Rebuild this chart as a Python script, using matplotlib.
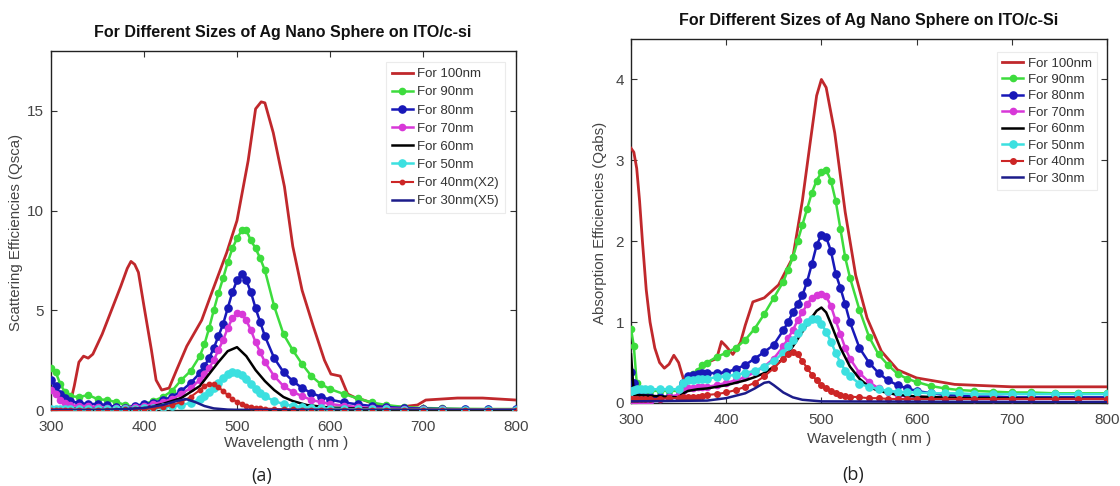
import matplotlib
matplotlib.use("Agg")
import matplotlib.pyplot as plt

plt.rcParams['font.family'] = ['Liberation Sans', 'DejaVu Sans']

# ---------------- data: panel (a) scattering ----------------
wl_a = [300, 305, 310, 315, 320, 330, 340, 350, 360, 370, 380, 390, 400, 410, 420, 430, 440, 450, 460,
        465, 470, 475, 480, 485, 490, 495, 500, 505, 510, 515, 520, 525, 530,
        540, 550, 560, 570, 580, 590, 600, 615, 630, 645, 660, 680, 700, 720, 745, 770, 800]

a100_wl = [300, 310, 320, 325, 330, 335, 340, 345, 355, 365, 375, 382, 386, 390, 394, 400, 408, 413, 419,
           427, 435, 446, 462, 473, 489, 500, 512, 520, 526, 530, 539, 551, 560, 570, 582, 594, 601,
           611, 619, 628, 636, 651, 675, 694, 703, 737, 764, 800]
a100 = [0.1, 0.1, 0.2, 1.2, 2.4, 2.7, 2.6, 2.8, 3.8, 5.0, 6.2, 7.1, 7.45, 7.3, 6.9, 5.2, 3.0, 1.5, 1.0,
        1.1, 2.0, 3.2, 4.5, 5.9, 7.9, 9.5, 12.5, 15.1, 15.45, 15.4, 13.9, 11.2, 8.2, 6.0, 4.2, 2.5, 1.8,
        1.7, 0.8, 0.6, 0.5, 0.25, 0.15, 0.25, 0.5, 0.6, 0.6, 0.5]

a90 = [2.1, 1.9, 1.3, 0.9, 0.7, 0.65, 0.75, 0.55, 0.5, 0.4, 0.25, 0.15, 0.3, 0.45, 0.65, 0.95, 1.5, 1.95, 2.7,
       3.3, 4.1, 5.0, 5.85, 6.6, 7.4, 8.1, 8.6, 9.0, 9.0, 8.5, 8.1, 7.6, 7.0,
       5.2, 3.8, 3.0, 2.3, 1.7, 1.3, 1.05, 0.8, 0.58, 0.38, 0.25, 0.15, 0.1, 0.08, 0.06, 0.05, 0.05]

a80 = [1.5, 1.2, 0.8, 0.6, 0.45, 0.35, 0.3, 0.3, 0.25, 0.15, 0.1, 0.2, 0.3, 0.35, 0.5, 0.65, 0.95, 1.35, 1.85,
       2.2, 2.6, 3.1, 3.7, 4.3, 5.1, 5.9, 6.5, 6.8, 6.5, 5.9, 5.1, 4.4, 3.7,
       2.6, 1.9, 1.45, 1.1, 0.85, 0.67, 0.52, 0.38, 0.28, 0.2, 0.15, 0.1, 0.07, 0.05, 0.04, 0.03, 0.03]

a70 = [1.0, 0.8, 0.5, 0.35, 0.25, 0.2, 0.2, 0.15, 0.1, 0.08, 0.1, 0.15, 0.2, 0.3, 0.4, 0.55, 0.8, 1.1, 1.5,
       1.8, 2.1, 2.5, 3.0, 3.5, 4.1, 4.6, 4.85, 4.8, 4.5, 4.0, 3.4, 2.9, 2.4,
       1.7, 1.2, 0.9, 0.7, 0.5, 0.4, 0.3, 0.22, 0.15, 0.1, 0.08, 0.05, 0.04, 0.03, 0.02, 0.02, 0.02]

a60_wl = [300, 350, 400, 420, 440, 460, 470, 480, 490, 500, 510, 520, 530, 540, 550, 560, 575, 600, 650, 700, 800]
a60 = [0.1, 0.05, 0.1, 0.3, 0.6, 1.2, 1.8, 2.4, 2.95, 3.15, 2.7, 2.0, 1.45, 1.0, 0.65, 0.45, 0.25, 0.12, 0.05, 0.02, 0.01]

a50 = [0.05, 0.05, 0.05, 0.05, 0.05, 0.05, 0.05, 0.05, 0.05, 0.05, 0.06, 0.07, 0.08, 0.1, 0.13, 0.18, 0.25, 0.35, 0.55,
       0.7, 0.9, 1.1, 1.35, 1.6, 1.8, 1.9, 1.88, 1.75, 1.55, 1.3, 1.05, 0.85, 0.68,
       0.45, 0.3, 0.2, 0.15, 0.1, 0.08, 0.06, 0.05, 0.04, 0.03, 0.03, 0.02, 0.02, 0.02, 0.02, 0.02, 0.02]

a40 = [0.02, 0.02, 0.02, 0.02, 0.02, 0.02, 0.02, 0.02, 0.02, 0.02, 0.03, 0.04, 0.05, 0.08, 0.15, 0.25, 0.4, 0.65, 1.0,
       1.2, 1.32, 1.3, 1.15, 0.95, 0.75, 0.55, 0.4, 0.3, 0.22, 0.16, 0.12, 0.09, 0.07,
       0.05, 0.04, 0.03, 0.02, 0.02, 0.02, 0.02, 0.02, 0.02, 0.02, 0.02, 0.02, 0.02, 0.02, 0.02, 0.02, 0.02]

a30_wl = [300, 350, 380, 400, 420, 435, 445, 455, 465, 475, 490, 500, 600, 800]
a30 = [0.0, 0.0, 0.05, 0.1, 0.25, 0.45, 0.55, 0.4, 0.2, 0.08, 0.02, 0.01, 0.0, 0.0]

# ---------------- data: panel (b) absorption ----------------
wl_b = [300, 303, 306, 310, 315, 320, 330, 340, 350, 355, 360, 365, 370, 375, 380,
        390, 400, 410, 420, 430, 440, 450, 460,
        465, 470, 475, 480, 485, 490, 495, 500, 505, 510, 515, 520, 525, 530,
        540, 550, 560, 570, 580, 590, 600, 615, 630, 645, 660, 680, 700, 720, 745, 770, 800]

b100_wl = [300, 303, 306, 309, 312, 316, 320, 325, 330, 335, 340, 345, 350, 355, 360, 370, 380, 390, 395,
           400, 407, 415, 420, 428, 440, 455, 470, 480, 488, 495, 500, 505, 514, 525, 536, 548, 563,
           580, 600, 640, 700, 800]
b100 = [3.15, 3.1, 2.9, 2.5, 2.0, 1.4, 1.0, 0.68, 0.5, 0.43, 0.48, 0.59, 0.5, 0.3, 0.3, 0.4, 0.5, 0.55, 0.76,
        0.7, 0.6, 0.75, 0.96, 1.25, 1.3, 1.46, 1.8, 2.5, 3.2, 3.8, 4.0, 3.9, 3.34, 2.36, 1.58, 1.05, 0.64,
        0.41, 0.31, 0.23, 0.2, 0.2]

b90 = [0.92, 0.7, 0.25, 0.15, 0.15, 0.15, 0.15, 0.15, 0.15, 0.25, 0.3, 0.36, 0.4, 0.47, 0.5,
       0.57, 0.62, 0.68, 0.78, 0.92, 1.1, 1.3, 1.5,
       1.65, 1.8, 2.0, 2.2, 2.4, 2.6, 2.75, 2.85, 2.88, 2.75, 2.5, 2.15, 1.8, 1.55,
       1.15, 0.82, 0.6, 0.47, 0.36, 0.3, 0.26, 0.21, 0.18, 0.16, 0.15, 0.14, 0.13, 0.13, 0.12, 0.12, 0.12]

b80 = [0.38, 0.25, 0.1, 0.07, 0.07, 0.07, 0.07, 0.07, 0.08, 0.25, 0.33, 0.35, 0.36, 0.37, 0.37,
       0.37, 0.38, 0.42, 0.47, 0.55, 0.63, 0.72, 0.9,
       1.0, 1.12, 1.22, 1.33, 1.5, 1.72, 1.95, 2.08, 2.05, 1.88, 1.6, 1.42, 1.22, 1.0,
       0.68, 0.5, 0.37, 0.28, 0.22, 0.18, 0.15, 0.12, 0.1, 0.09, 0.08, 0.08, 0.07, 0.07, 0.07, 0.07, 0.07]

b70 = [0.05, 0.0, 0.0, 0.0, 0.0, 0.03, 0.05, 0.08, 0.1, 0.15, 0.18, 0.19, 0.2, 0.2, 0.2,
       0.22, 0.25, 0.28, 0.32, 0.38, 0.45, 0.55, 0.7,
       0.8, 0.9, 1.02, 1.12, 1.22, 1.3, 1.34, 1.35, 1.32, 1.2, 1.02, 0.85, 0.68, 0.55,
       0.37, 0.26, 0.18, 0.13, 0.1, 0.09, 0.08, 0.07, 0.06, 0.06, 0.05, 0.05, 0.05, 0.05, 0.05, 0.05, 0.05]

b60_wl = [300, 303, 350, 355, 360, 370, 380, 390, 400, 410, 420, 430, 440, 450, 460, 470, 480, 490, 495,
          500, 505, 510, 520, 530, 540, 550, 560, 580, 600, 650, 800]
b60 = [0.6, 0.1, 0.07, 0.12, 0.15, 0.17, 0.18, 0.2, 0.22, 0.25, 0.28, 0.32, 0.37, 0.45, 0.55, 0.7, 0.88, 1.06, 1.14,
       1.18, 1.12, 0.98, 0.68, 0.45, 0.3, 0.2, 0.15, 0.1, 0.08, 0.06, 0.05]

b50 = [0.15, 0.16, 0.17, 0.17, 0.17, 0.17, 0.17, 0.17, 0.17, 0.25, 0.28, 0.29, 0.3, 0.3, 0.3,
       0.32, 0.33, 0.35, 0.37, 0.4, 0.45, 0.52, 0.62,
       0.7, 0.78, 0.86, 0.94, 1.0, 1.04, 1.04, 0.98, 0.88, 0.76, 0.62, 0.5, 0.4, 0.33,
       0.24, 0.2, 0.17, 0.15, 0.14, 0.13, 0.13, 0.12, 0.12, 0.12, 0.11, 0.11, 0.11, 0.11, 0.11, 0.11, 0.11]

b40 = [0.05, 0.05, 0.05, 0.05, 0.05, 0.05, 0.05, 0.06, 0.06, 0.07, 0.07, 0.08, 0.08, 0.09, 0.1,
       0.11, 0.13, 0.16, 0.2, 0.25, 0.33, 0.43, 0.55,
       0.6, 0.63, 0.6, 0.52, 0.43, 0.35, 0.28, 0.22, 0.18, 0.15, 0.12, 0.1, 0.09, 0.08,
       0.07, 0.06, 0.06, 0.05, 0.05, 0.05, 0.05, 0.05, 0.05, 0.05, 0.05, 0.05, 0.05, 0.05, 0.05, 0.05, 0.05]

b30_wl = [300, 380, 400, 420, 430, 440, 445, 450, 460, 470, 480, 500, 800]
b30 = [0.02, 0.03, 0.06, 0.12, 0.18, 0.25, 0.26, 0.22, 0.13, 0.07, 0.04, 0.02, 0.01]

labels_a = ['For 100nm', 'For 90nm', 'For 80nm', 'For 70nm', 'For 60nm', 'For 50nm', 'For 40nm(X2)', 'For 30nm(X5)']
labels_b = ['For 100nm', 'For 90nm', 'For 80nm', 'For 70nm', 'For 60nm', 'For 50nm', 'For 40nm', 'For 30nm']
xticks = [300, 400, 500, 600, 700, 800]

# ---------------- styling ----------------
C100 = '#c0282c'
C90 = '#3ddc3d'
C80 = '#1818b8'
C70 = '#d838d8'
C60 = '#000000'
C50 = '#3ce0e0'
C40 = '#cc2626'
C30 = '#1c1c8a'

W, H = 1120, 486
fig = plt.figure(figsize=(11.2, 4.86), dpi=100)

def fx(px):
    return px / W

def fy(py):
    return 1 - py / H

ax1 = fig.add_axes([fx(51), fy(410), fx(516 - 51), (410 - 51) / H])
ax2 = fig.add_axes([fx(631), fy(403), fx(1107 - 631), (403 - 39) / H])

def draw(ax, wl, s100w, s100, s90, s80, s70, s60w, s60, s50, s40, s30w, s30, labels, ms40):
    ax.plot(s100w, s100, color=C100, lw=2.0, label=labels[0], zorder=3)
    ax.plot(wl, s90, color=C90, lw=1.8, marker='o', ms=4.5, label=labels[1], zorder=4)
    ax.plot(wl, s80, color=C80, lw=1.8, marker='o', ms=5.2, label=labels[2], zorder=5)
    ax.plot(wl, s70, color=C70, lw=1.8, marker='o', ms=4.5, label=labels[3], zorder=6)
    ax.plot(s60w, s60, color=C60, lw=1.8, label=labels[4], zorder=7)
    ax.plot(wl, s50, color=C50, lw=1.8, marker='o', ms=5.2, label=labels[5], zorder=8)
    ax.plot(wl, s40, color=C40, lw=1.5, marker='o', ms=ms40, label=labels[6], zorder=9)
    ax.plot(s30w, s30, color=C30, lw=1.8, label=labels[7], zorder=10)
    ax.set_xlim(300, 800)
    ax.set_xticks(xticks)
    ax.tick_params(direction='in', top=True, right=True, length=4, width=0.8,
                   labelsize=11, colors='#333333', labelcolor='#444444')
    ax.tick_params(axis='x', pad=7)
    ax.tick_params(axis='y', pad=5)
    for sp in ax.spines.values():
        sp.set_color('#222222')
        sp.set_linewidth(1.0)

draw(ax1, wl_a, a100_wl, a100, a90, a80, a70, a60_wl, a60, a50, a40, a30_wl, a30, labels_a, 3.2)
draw(ax2, wl_b, b100_wl, b100, b90, b80, b70, b60_wl, b60, b50, b40, b30_wl, b30, labels_b, 4.0)

ax1.set_ylim(0, 18)
ax1.set_yticks([0, 5, 10, 15])
ax2.set_ylim(0, 4.5)
ax2.set_yticks([0, 1, 2, 3, 4])

leg1 = ax1.legend(loc='upper right', bbox_to_anchor=(fx(505), fy(62)), bbox_transform=fig.transFigure,
                  fontsize=9.5, numpoints=1, handlelength=1.6, handletextpad=0.35, labelspacing=0.45,
                  borderpad=0.45, borderaxespad=0, frameon=True, fancybox=False)
leg2 = ax2.legend(loc='upper right', bbox_to_anchor=(fx(1097), fy(52)), bbox_transform=fig.transFigure,
                  fontsize=9.5, numpoints=1, handlelength=1.6, handletextpad=0.35, labelspacing=0.32,
                  borderpad=0.4, borderaxespad=0, frameon=True, fancybox=False)
for lg in (leg1, leg2):
    lg.get_frame().set_edgecolor('#e6e6e6')
    lg.get_frame().set_linewidth(0.8)
    for t in lg.get_texts():
        t.set_color('#333333')

fig.text(fx(283), fy(32), 'For Different Sizes of Ag Nano Sphere on ITO/c-si', ha='center', va='center',
         fontsize=11.5, fontweight='bold', color='#111111')
fig.text(fx(869), fy(21), 'For Different Sizes of Ag Nano Sphere on ITO/c-Si', ha='center', va='center',
         fontsize=11.5, fontweight='bold', color='#111111')

fig.text(fx(286), fy(443), 'Wavelength ( nm )', ha='center', va='center', fontsize=11, color='#444444')
fig.text(fx(869), fy(439), 'Wavelength ( nm )', ha='center', va='center', fontsize=11, color='#444444')
fig.text(fx(16), fy(232), 'Scattering Efficiencies (Qsca)', ha='center', va='center', rotation=90,
         fontsize=10.8, color='#444444')
fig.text(fx(600), fy(223), 'Absorption Efficiencies (Qabs)', ha='center', va='center', rotation=90,
         fontsize=10.8, color='#444444')

fig.text(fx(262), fy(476), '(a)', ha='center', va='center', fontsize=13, color='#222222',
         family=['Open Sans', 'DejaVu Sans'])
fig.text(fx(853), fy(475), '(b)', ha='center', va='center', fontsize=13, color='#222222',
         family=['Open Sans', 'DejaVu Sans'])

fig.savefig('out.png', dpi=100, facecolor='white')
